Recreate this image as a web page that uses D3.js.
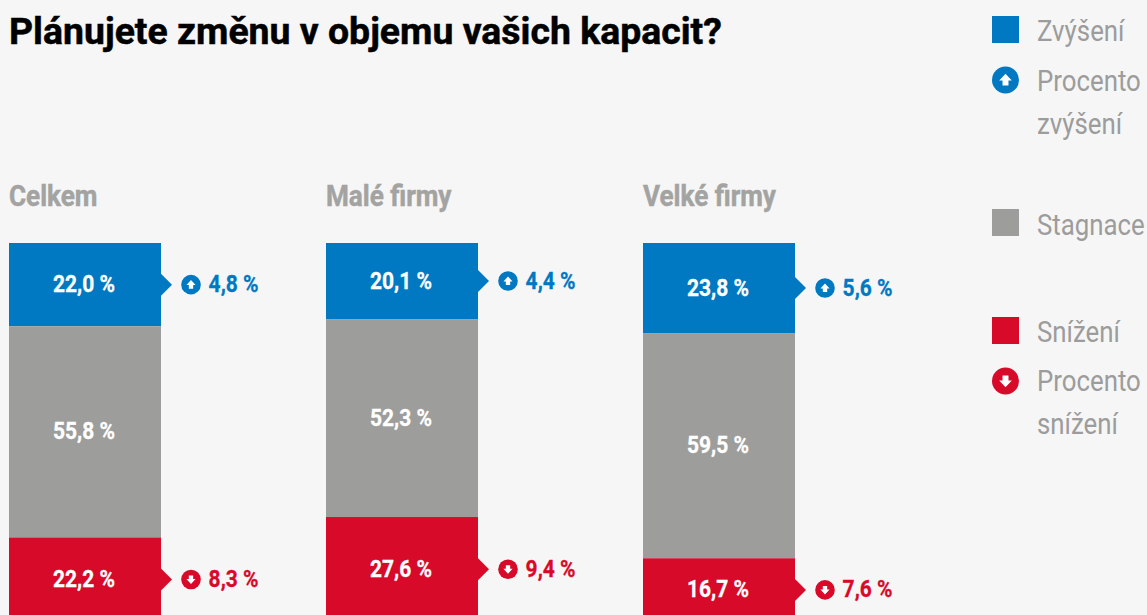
<!DOCTYPE html>
<html><head><meta charset="utf-8">
<script src="https://cdn.jsdelivr.net/npm/d3@7"></script>
<style>html,body{margin:0;padding:0;background:#f6f6f6;overflow:hidden}svg{display:block}text{font-family:Roboto,sans-serif}</style>
</head><body><svg id="c" width="1147" height="615"></svg>
<script>
const title = "Plánujete změnu v objemu vašich kapacit?";
const groups = ["Celkem", "Malé firmy", "Velké firmy"];
const segments = ["Zvýšení", "Stagnace", "Snížení"];
const zvyseni = [22.0, 20.1, 23.8];
const stagnace = [55.8, 52.3, 59.5];
const snizeni = [22.2, 27.6, 16.7];
const procentoZvyseni = [4.8, 4.4, 5.6];
const procentoSnizeni = [8.3, 9.4, 7.6];
const colors = {blue:"#0079c2", gray:"#9d9d9b", red:"#d70a2a", label:"#a3a3a2", legend:"#9c9c9c"};

const svg = d3.select("#c");
const fmt = v => v.toFixed(1).replace(".", ",") + " %";
const x = d3.scalePoint().domain(groups).range([9, 643]);
const y = d3.scaleLinear().domain([0, 100]).range([243, 621.5]);
const BW = 152;

function cond(g, txt, px, py, size, weight, fill, anchor, sx, bold){
  return g.append("text").attr("transform",`translate(${px},${py}) scale(${sx},1)`)
    .attr("text-anchor",anchor||"start").attr("font-size",size).attr("font-weight",weight).attr("fill",fill)
    .attr("stroke",bold?fill:"none").attr("stroke-width",bold||0).text(txt);
}
function badge(g, cx, cy, r, fill, up){
  g.append("circle").attr("cx",cx).attr("cy",cy).attr("r",r).attr("fill",fill);
  const k = r/10*0.85, s = up?1:-1;
  g.append("path").attr("transform",`translate(${cx},${cy}) scale(${k},${k*s})`)
    .attr("d","M0,-5.5L5.5,0.5H2.6V4.8H-2.6V0.5H-5.5Z").attr("fill","#fff");
}

svg.append("rect").attr("width",1147).attr("height",615).attr("fill","#f6f6f6");
svg.append("text").attr("x",9).attr("y",44).attr("font-size",37.4).attr("font-weight",700).attr("fill","#000")
  .attr("stroke","#000").attr("stroke-width",0.5).text(title);

groups.forEach((name,i)=>{
  const g = svg.append("g"), x0 = x(name);
  cond(g,name,x0,206,30,700,colors.label,"start",0.87,0.5);
  const vals=[zvyseni[i],stagnace[i],snizeni[i]], cols=[colors.blue,colors.gray,colors.red];
  let acc=0;
  const mids=[];
  vals.forEach((v,j)=>{
    const y0=y(acc), y1=y(acc+v); acc+=v;
    g.append("rect").attr("x",x0).attr("y",y0).attr("width",BW).attr("height",y1-y0).attr("fill",cols[j]);
    const m=(y0+y1)/2; mids.push(m);
    cond(g,fmt(v),x0+BW/2-1,m+7.5,24,700,"#fff","middle",0.875,0.3);
  });
  [[0,procentoZvyseni[i],colors.blue,true],[2,procentoSnizeni[i],colors.red,false]].forEach(([j,p,c,up])=>{
    const m=mids[j], xe=x0+BW;
    g.append("path").attr("d",d3.line()([[xe,m-11],[xe+11,m],[xe,m+11]])+"Z").attr("fill",cols[j]);
    badge(g,xe+30,m,9.8,c,up);
    cond(g,fmt(p),xe+47.6,m+7.5,24,700,c,"start",0.875,0.3);
  });
});

const lg = svg.append("g");
const sw=[[16,colors.blue],[209,colors.gray],[317,colors.red]];
sw.forEach(([yy,c])=>lg.append("rect").attr("x",992).attr("y",yy).attr("width",27).attr("height",27).attr("fill",c));
badge(lg,1005.5,80,13.5,colors.blue,true);
badge(lg,1005.5,381,13.5,colors.red,false);
[[segments[0],41],["Procento",91],["zvýšení",134],[segments[1],235],[segments[2],342],["Procento",391],["snížení",434]]
 .forEach(([t,yy])=>cond(lg,t,1037,yy,29,400,colors.legend,"start",0.89));
</script></body></html>
